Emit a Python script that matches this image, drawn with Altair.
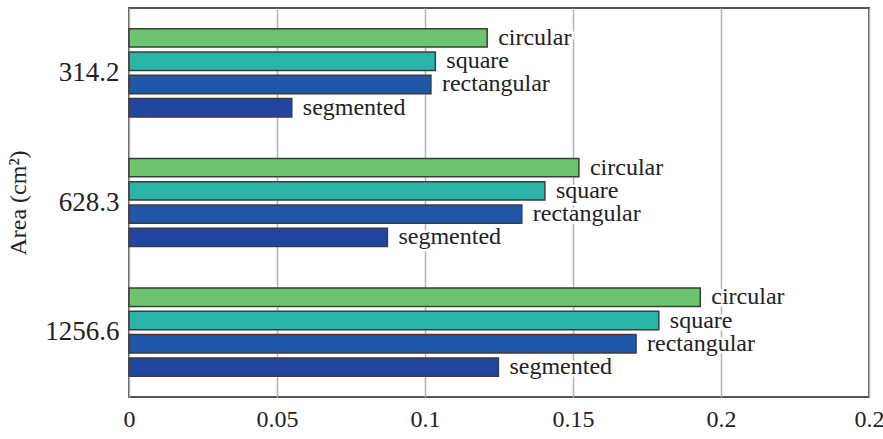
import altair as alt
import pandas as pd

# Plate areas (cm^2) and the four electrode shapes
areas = ["314.2", "628.3", "1256.6"]
shapes = ["circular", "square", "rectangular", "segmented"]
shape_colors = ["#6cc46e", "#2cb3a9", "#2057a9", "#2146a0"]

circular = [0.121, 0.152, 0.193]
square = [0.1035, 0.1405, 0.179]
rectangular = [0.102, 0.1327, 0.1713]
segmented = [0.055, 0.0873, 0.1248]

x_ticks = [0, 0.05, 0.1, 0.15, 0.2, 0.25]

series = {
    "circular": circular,
    "square": square,
    "rectangular": rectangular,
    "segmented": segmented,
}
rows = []
for shape in shapes:
    for area, v in zip(areas, series[shape]):
        rows.append({"area": area, "shape": shape, "value": v})
df = pd.DataFrame(rows)

FONT = "Liberation Serif"

x_enc = alt.X(
    "value:Q",
    scale=alt.Scale(domain=[0, 0.25], nice=False, zero=True),
    axis=alt.Axis(
        values=x_ticks,
        title=None,
        grid=True,
        gridColor="#b4b4b4",
        gridWidth=1.5,
        domain=False,
        ticks=False,
        labelFlush=False,
        labelOverlap=False,
        labelPadding=10,
        labelFont=FONT,
        labelFontSize=24,
        labelColor="#222222",
        labelExpr="datum.value == 0.25 ? '0.2' : format(datum.value, '.2~f')",
    ),
)
y_enc = alt.Y(
    "area:N",
    sort=areas,
    scale=alt.Scale(paddingInner=0, paddingOuter=0),
    axis=alt.Axis(
        title="Area (cm²)",
        titleFont=FONT,
        titleFontSize=24,
        titleFontWeight="normal",
        titleColor="#222222",
        titlePadding=14,
        grid=False,
        domain=False,
        ticks=False,
        labelPadding=10,
        labelFont=FONT,
        labelFontSize=27,
        labelColor="#222222",
    ),
)
offset_enc = alt.YOffset(
    "shape:N",
    sort=shapes,
    scale=alt.Scale(domain=shapes, paddingInner=0.21, paddingOuter=0.89),
)

base = alt.Chart(df).encode(x=x_enc, y=y_enc, yOffset=offset_enc)

bars = base.mark_bar(stroke="#3c3c3c", strokeWidth=1.5).encode(
    color=alt.Color(
        "shape:N",
        scale=alt.Scale(domain=shapes, range=shape_colors),
        legend=None,
    )
)

label_style = dict(align="left", baseline="middle", dx=11, font=FONT, fontSize=24)
halo = base.mark_text(
    **label_style, color="white", stroke="white", strokeWidth=5
).encode(text="shape:N")
labels = base.mark_text(**label_style, color="#222222").encode(text="shape:N")

chart = (
    alt.layer(bars, halo, labels)
    .properties(
        width=740,
        height=389,
        autosize=alt.AutoSizeParams(type="none"),
        padding={"left": 129, "top": 8, "right": 14, "bottom": 42},
        background="white",
    )
    .configure_view(stroke="#555555", strokeWidth=2)
)

chart.save("out.html", embed_options={"renderer": "svg", "actions": False})
